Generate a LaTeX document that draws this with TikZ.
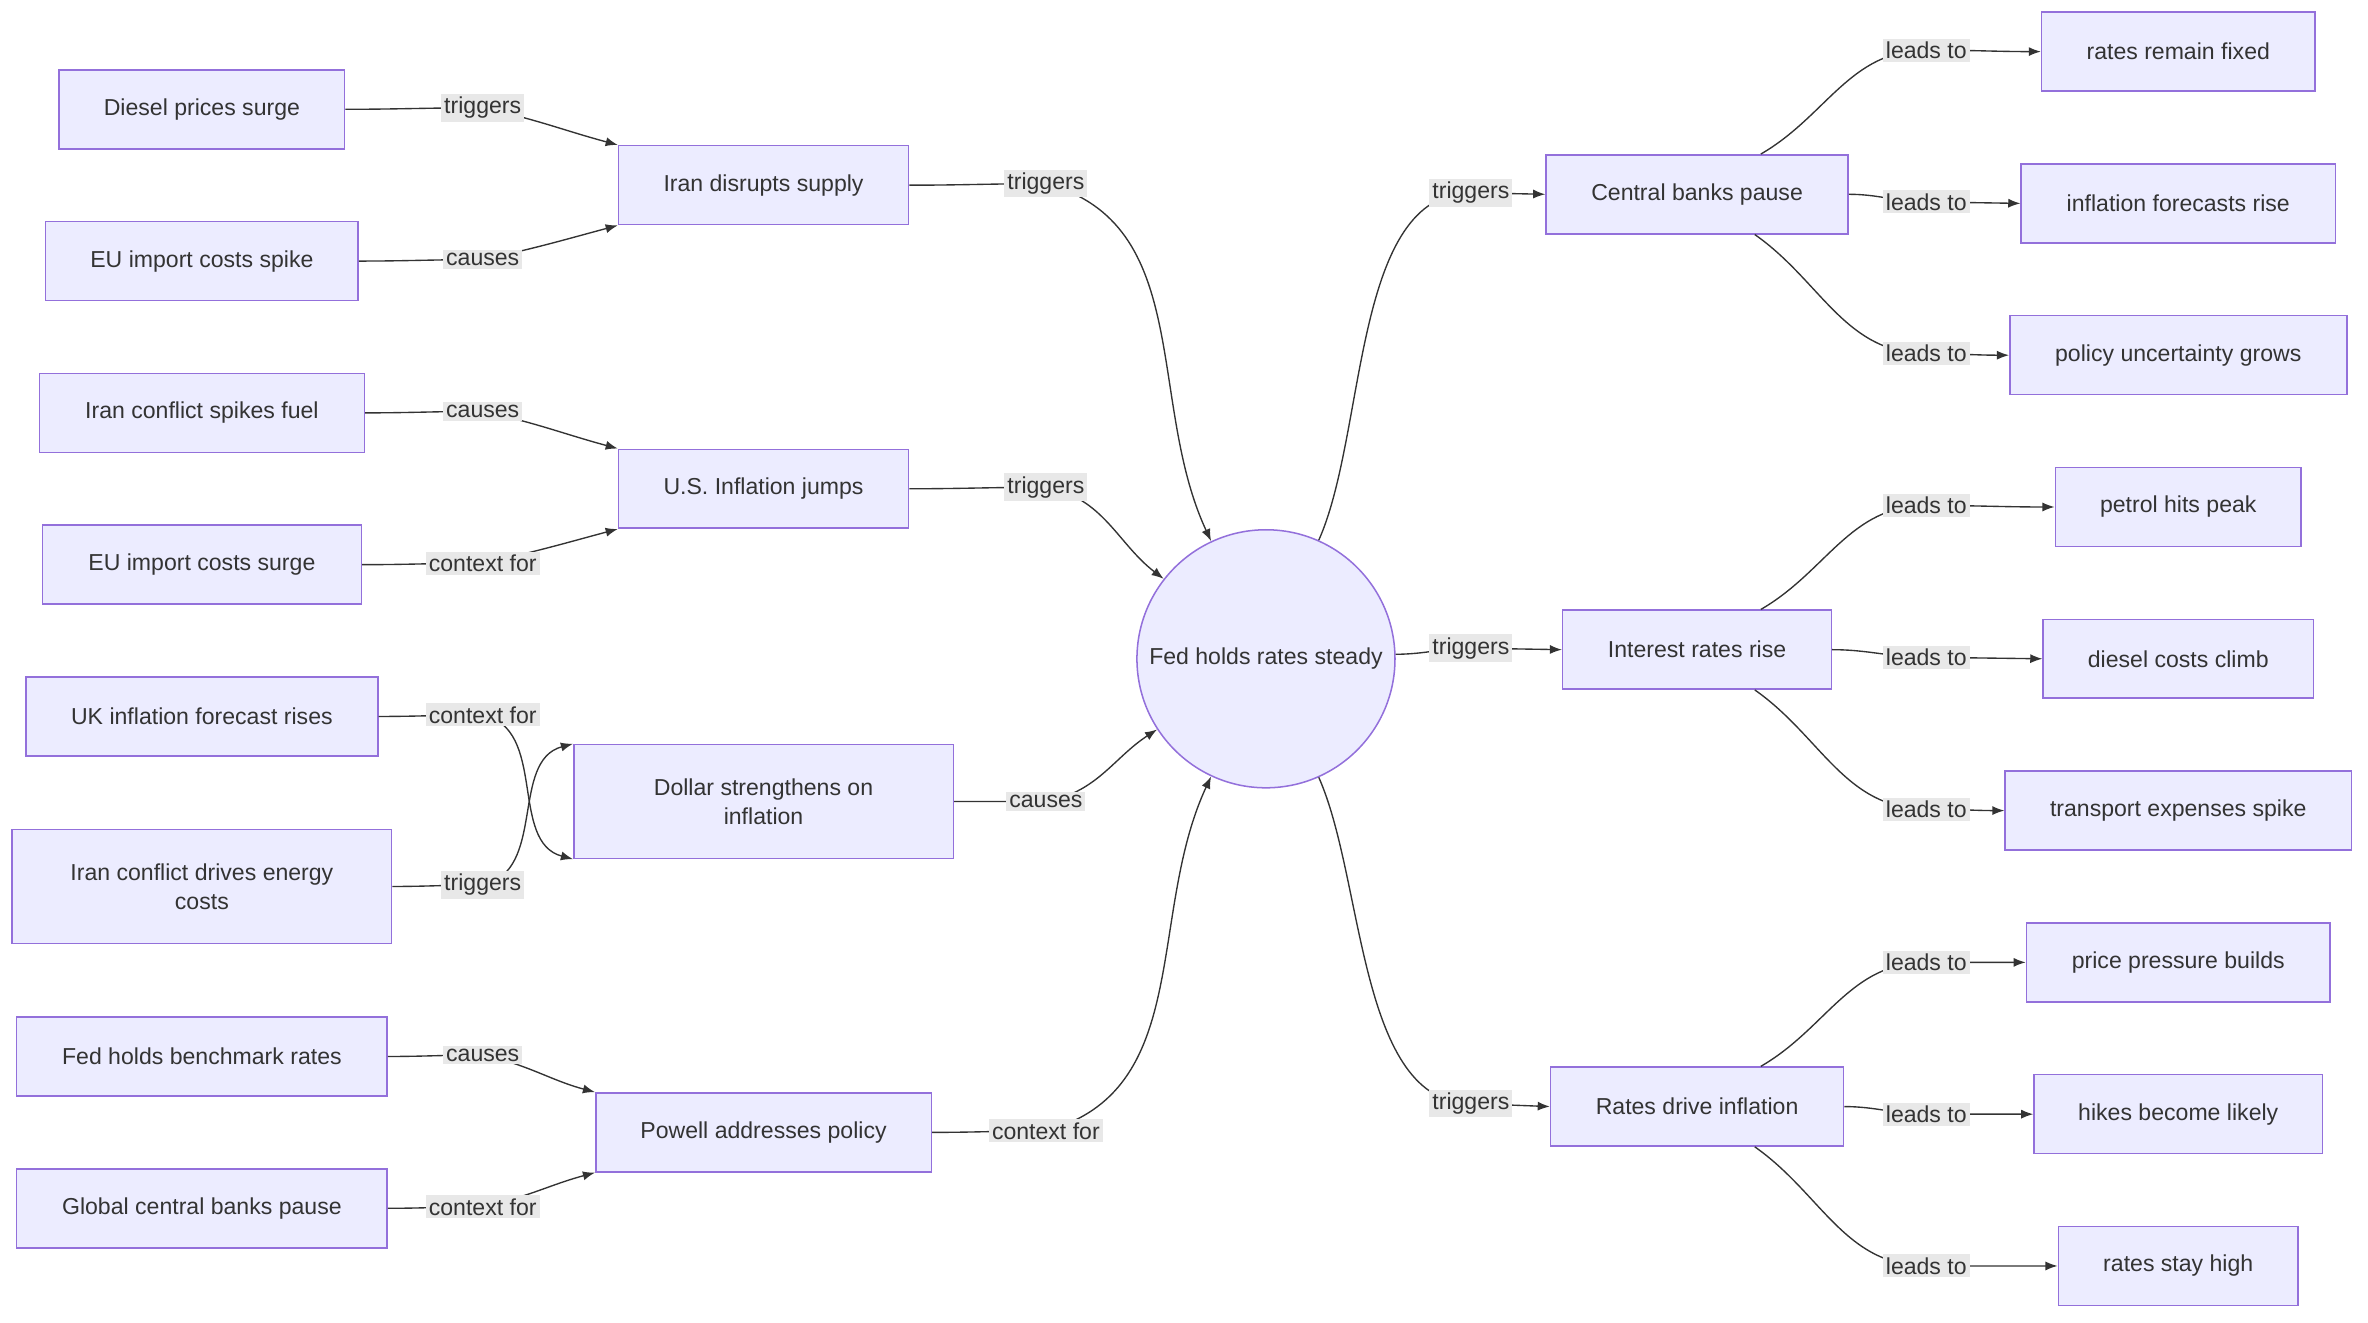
\documentclass[tikz,border=0pt]{standalone}
\usepackage{fontspec}
\setmainfont{Liberation Sans}
\usetikzlibrary{arrows.meta}
\definecolor{nfill}{HTML}{ECECFF}
\definecolor{nline}{HTML}{9370DB}
\definecolor{lfill}{HTML}{E8E8E8}
\definecolor{txt}{HTML}{333333}
\begin{document}
\begin{tikzpicture}[x=0.5pt,y=-0.5pt,
  font=\fontsize{7.6pt}{9.5pt}\selectfont, text=txt,
  box/.style={draw=nline,fill=nfill,line width=0.5pt,minimum height=26pt,inner sep=0pt,align=center},
  lab/.style={fill=lfill,inner sep=1pt,text=txt},
  edge/.style={draw=txt,line width=0.45pt,-{Latex[length=4pt,width=3pt]}}]
\useasboundingbox (0,0) rectangle (1560,871);
% left
\node[box,minimum width=94pt] (d1) at (133,72) {Diesel prices surge};
\node[box,minimum width=103pt] (d2) at (133,172) {EU import costs spike};
\node[box,minimum width=107pt] (d3) at (133,272) {Iran conflict spikes fuel};
\node[box,minimum width=105pt] (d4) at (133,372) {EU import costs surge};
\node[box,minimum width=116pt] (d5) at (133,472) {UK inflation forecast rises};
\node[box,minimum width=125pt,minimum height=37.5pt] (d6) at (133,584) {Iran conflict drives energy\\costs};
\node[box,minimum width=122pt] (d7) at (133,696) {Fed holds benchmark rates};
\node[box,minimum width=122pt] (d8) at (133,796) {Global central banks pause};
% middle
\node[box,minimum width=95.5pt] (m1) at (503,122) {Iran disrupts supply};
\node[box,minimum width=95.5pt] (m2) at (503,322) {U.S. Inflation jumps};
\node[box,minimum width=125pt,minimum height=37.5pt] (m3) at (503,528) {Dollar strengthens on\\inflation};
\node[box,minimum width=110.5pt] (m4) at (503,746) {Powell addresses policy};
% center
\node[draw=nline,fill=nfill,line width=0.5pt,circle,minimum size=85pt,inner sep=0pt] (c) at (834,434) {Fed holds rates steady};
% right mid
\node[box,minimum width=99.5pt] (r1) at (1118,128) {Central banks pause};
\node[box,minimum width=88.5pt] (r2) at (1118,428) {Interest rates rise};
\node[box,minimum width=96.5pt] (r3) at (1118,729) {Rates drive inflation};
% right
\node[box,minimum width=90pt] (e1) at (1435,34) {rates remain fixed};
\node[box,minimum width=103.5pt] (e2) at (1435,134) {inflation forecasts rise};
\node[box,minimum width=111pt] (e3) at (1435,234) {policy uncertainty grows};
\node[box,minimum width=81pt] (e4) at (1435,334) {petrol hits peak};
\node[box,minimum width=89pt] (e5) at (1435,434) {diesel costs climb};
\node[box,minimum width=114pt] (e6) at (1435,534) {transport expenses spike};
\node[box,minimum width=100pt] (e7) at (1435,634) {price pressure builds};
\node[box,minimum width=95pt] (e8) at (1435,734) {hikes become likely};
\node[box,minimum width=79pt] (e9) at (1435,834) {rates stay high};
% left edges
\foreach \s/\t/\a/\y/\l/\o/\i in {d1/m1/north west/71/triggers/-12/165, d2/m1/south west/171/causes/12/195,
  d3/m2/north west/271/causes/-12/165, d4/m2/south west/371/context for/12/195,
  d5/m3/south west/471/context for/-12/165, d6/m3/north west/583/triggers/12/195,
  d7/m4/north west/695/causes/-12/165, d8/m4/south west/795/context for/12/195}{
  \coordinate (L) at (318,\y);
  \draw[edge] (\s.east) to[out=0,in=180] (L) to[out=\o,in=\i] (\t.\a);
  \node[lab] at (L) {\l};
}
% to center
\foreach \s/\y/\l/\o/\ang in {m1/121/triggers/-15/115, m2/321/triggers/-10/142.6, m3/528/causes/10/213, m4/745/context for/15/245}{
  \coordinate (L) at (689,\y);
  \draw[edge] (\s.east) to[out=0,in=180] (L) to[out=\o,in=\ang] (c.\ang);
  \node[lab] at (L) {\l};
}
% from center
\coordinate (L) at (969,127);
\draw[edge] (c.66) to[out=66,in=180,looseness=0.8] (L) -- (r1.west);
\node[lab] at (L) {triggers};
\coordinate (L) at (969,427);
\draw[edge] (c.2) to[out=0,in=180] (L) -- (r2.west);
\node[lab] at (L) {triggers};
\coordinate (L) at (969,727);
\draw[edge] (c.-66) to[out=-66,in=180,looseness=0.8] (L) -- (r3.west);
\node[lab] at (L) {triggers};
% right edges
\foreach \s/\a/\b/\c/\y in {r1/e1/e2/e3/0, r2/e4/e5/e6/300, r3/e7/e8/e9/601}{
  \coordinate (L1) at (1269,\y+33);
  \coordinate (L2) at (1269,\y+133);
  \coordinate (L3) at (1269,\y+233);
  \draw[edge] ([xshift=21pt]\s.north) to[out=30,in=180] (L1) to[out=0,in=180] (\a.west);
  \draw[edge] (\s.east) to[out=0,in=180] (L2) -- (\b.west);
  \draw[edge] ([xshift=19pt]\s.south) to[out=-35,in=180] (L3) to[out=0,in=180] (\c.west);
  \node[lab] at (L1) {leads to};
  \node[lab] at (L2) {leads to};
  \node[lab] at (L3) {leads to};
}
\end{tikzpicture}
\end{document}
